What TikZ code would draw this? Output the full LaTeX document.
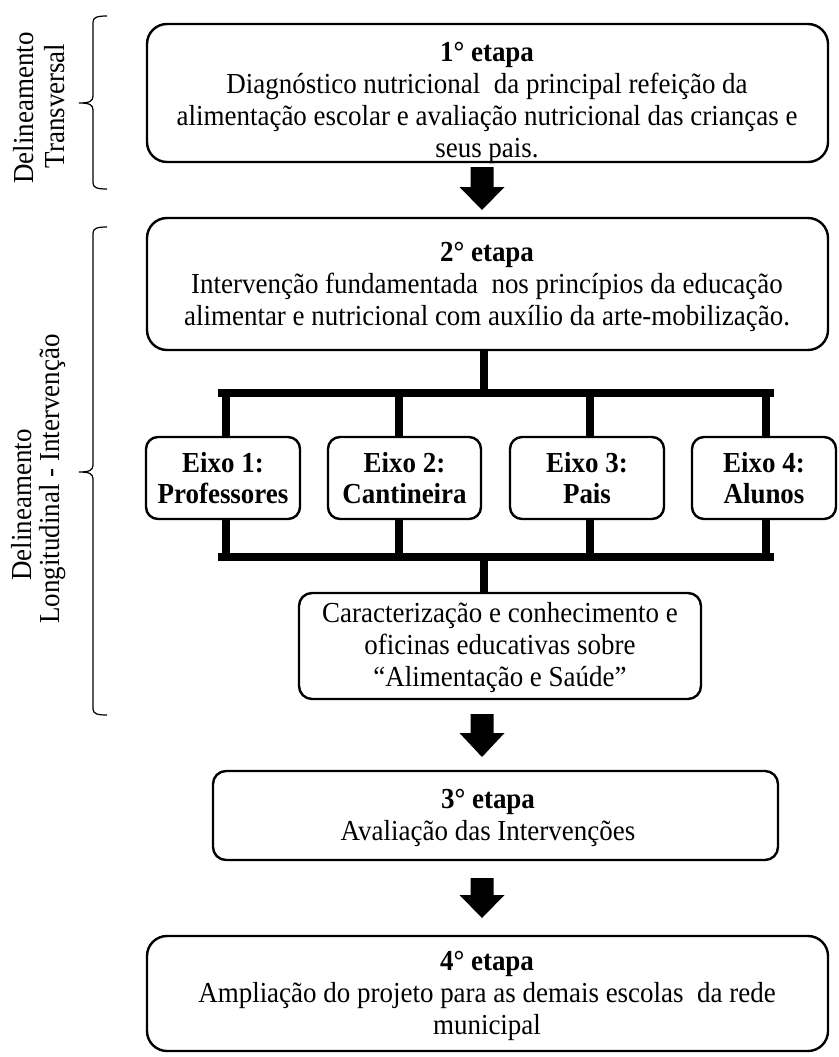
\documentclass[tikz,border=0pt]{standalone}
\usepackage{fontspec}
\setmainfont{Liberation Serif}[FakeStretch=0.93]
\begin{document}
\begin{tikzpicture}[x=1pt,y=-1pt,
  every node/.style={font=\fontsize{29}{32}\selectfont},
  box/.style={draw, line width=2.4pt, rounded corners=#1, inner sep=0pt},
  box/.default=20pt,
  txt/.style={align=center, inner sep=0pt},
  eixo/.style={box=12pt, minimum width=#1, minimum height=82pt},
  etxt/.style={txt, font=\fontsize{29}{31}\selectfont\bfseries},
  bar/.style={line width=8pt},
  hbar/.style={line width=8pt, line cap=rect},
  brace/.style={line width=1.2pt},
  side/.style={rotate=90, inner sep=0pt}]
\useasboundingbox (0,0) rectangle (838,1057);

% ---------- left braces and labels ----------
\draw[brace] (107,16) .. controls (98,16) and (93,17) .. (93,22) -- (93,96)
  .. controls (93,101) and (90,103) .. (79,103)
  .. controls (90,103) and (93,105) .. (93,110) -- (93,183)
  .. controls (93,188) and (98,189) .. (107,189);
\node[side] (l1a) at (24,108) {Delineamento};
\node[side] (l1b) at (55,106) {Transversal};

\draw[brace] (107,227) .. controls (98,227) and (93,228) .. (93,233) -- (93,465)
  .. controls (93,470) and (90,472) .. (79,472)
  .. controls (90,472) and (93,474) .. (93,479) -- (93,709)
  .. controls (93,714) and (98,715) .. (107,715);
\node[side] (l2a) at (22,505) {Delineamento};
\node[side] (l2b) at (53,479) {Longitudinal - Intervenção};

% ---------- main boxes ----------
\node[box, minimum width=681pt, minimum height=138pt] (b1) at (487.5,93) {};
\node[txt] (t1) at (487,103) {{\bfseries 1° etapa}\\
  Diagnóstico nutricional\ \ da principal refeição da\\
  alimentação escolar e avaliação nutricional das crianças e\\
  seus pais.};

\node[box, minimum width=681pt, minimum height=132pt] (b2) at (487.5,284) {};
\node[txt] (t2) at (487,287) {{\bfseries 2° etapa}\\
   Intervenção fundamentada\ \ nos princípios da educação\\
   alimentar e nutricional com auxílio da arte-mobilização.};

\node[eixo=154pt] (e1) at (223,478) {};
\node[eixo=153pt] (e2) at (404.5,478) {};
\node[eixo=154pt] (e3) at (587,478) {};
\node[eixo=144pt] (e4) at (764,478) {};
\node[etxt] (x1) at (e1) {Eixo 1:\\Professores};
\node[etxt] (x2) at (e2) {Eixo 2:\\Cantineira};
\node[etxt] (x3) at (e3) {Eixo 3:\\Pais};
\node[etxt] (x4) at (e4) {Eixo 4:\\Alunos};

\node[box=13pt, minimum width=402pt, minimum height=106pt] (c) at (500,646) {};
\node[txt] (ct) at (500,648) {Caracterização e conhecimento e\\
   oficinas educativas sobre\\
   “Alimentação e Saúde”};

\node[box=13pt, minimum width=565pt, minimum height=89pt] (b3) at (495.5,815.5) {};
\node[txt] (t3) at (488,818) {{\bfseries 3° etapa}\\Avaliação das Intervenções};

\node[box, minimum width=681pt, minimum height=115pt] (b4) at (487.5,993.5) {};
\node[txt] (t4) at (487,996) {{\bfseries 4° etapa}\\
   Ampliação do projeto para as demais escolas\ \ da rede\\
   municipal};

% ---------- connectors (tree) ----------
\coordinate (st) at (484,393);
\coordinate (tl) at (222,393);
\coordinate (tr) at (770,393);
\coordinate (d1) at (226,393);
\coordinate (d2) at (399,393);
\coordinate (d3) at (590,393);
\coordinate (d4) at (766,393);
\coordinate (sb) at (484,557);
\coordinate (bl) at (222,557);
\coordinate (br) at (770,557);

\draw[bar] (b2.south -| st) -- (st);
\draw[hbar] (tl) -- (tr);
\draw[bar] (d1) -- (d1 |- e1.north);
\draw[bar] (d2) -- (d2 |- e2.north);
\draw[bar] (d3) -- (d3 |- e3.north);
\draw[bar] (d4) -- (d4 |- e4.north);

\draw[bar] (d1 |- e1.south) -- (d1 |- sb);
\draw[bar] (d2 |- e2.south) -- (d2 |- sb);
\draw[bar] (d3 |- e3.south) -- (d3 |- sb);
\draw[bar] (d4 |- e4.south) -- (d4 |- sb);
\draw[hbar] (bl) -- (br);
\draw[bar] (sb) -- (sb |- c.north);

% ---------- block arrows ----------
\newcommand\blkarrow[4]{% x, top, head start, tip
  \fill (#1-11.5,#2) -- (#1+11.5,#2) -- (#1+11.5,#3) -- (#1+22.5,#3)
    -- (#1,#4) -- (#1-22.5,#3) -- (#1-11.5,#3) -- cycle;}
\blkarrow{482}{167}{187}{210}
\blkarrow{482}{714}{733}{757}
\blkarrow{482}{878}{895}{918}
\end{tikzpicture}
\end{document}
